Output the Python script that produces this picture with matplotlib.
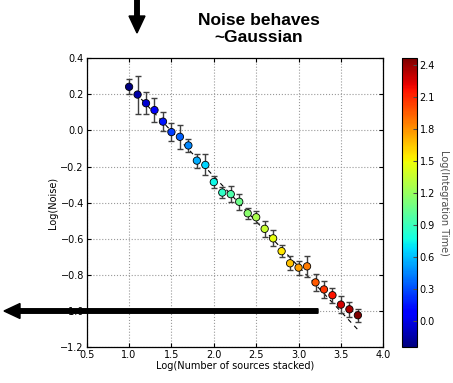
import matplotlib
matplotlib.use("Agg")
import matplotlib.pyplot as plt
import numpy as np
from matplotlib.patches import FancyArrow
from matplotlib.transforms import IdentityTransform

# ---- data ----
log_n = [1.0, 1.1, 1.2, 1.3, 1.4, 1.5, 1.6, 1.7, 1.8, 1.9,
         2.0, 2.1, 2.2, 2.3, 2.4, 2.5, 2.6, 2.7, 2.8, 2.9,
         3.0, 3.1, 3.2, 3.3, 3.4, 3.5, 3.6, 3.7]
log_noise = [0.242, 0.199, 0.151, 0.113, 0.049, -0.009, -0.035, -0.083, -0.167, -0.191,
             -0.286, -0.344, -0.353, -0.395, -0.459, -0.481, -0.545, -0.598, -0.669, -0.736,
             -0.760, -0.753, -0.842, -0.881, -0.913, -0.965, -0.991, -1.024]
noise_err = [0.042, 0.105, 0.060, 0.068, 0.054, 0.050, 0.066, 0.037, 0.039, 0.058,
             0.033, 0.028, 0.045, 0.044, 0.031, 0.033, 0.045, 0.044, 0.033, 0.039,
             0.039, 0.060, 0.045, 0.048, 0.042, 0.046, 0.040, 0.037]
log_time = [-0.24, -0.14, -0.04, 0.06, 0.16, 0.26, 0.36, 0.46, 0.56, 0.66,
            0.76, 0.86, 0.96, 1.06, 1.16, 1.26, 1.36, 1.46, 1.56, 1.66,
            1.76, 1.86, 1.96, 2.06, 2.16, 2.26, 2.36, 2.46]
fit_x = [1.0, 3.7]
fit_y = [0.246, -1.104]

xticks = [0.5, 1.0, 1.5, 2.0, 2.5, 3.0, 3.5, 4.0]
yticks = [-1.2, -1.0, -0.8, -0.6, -0.4, -0.2, 0.0, 0.2, 0.4]
cticks = [0.0, 0.3, 0.6, 0.9, 1.2, 1.5, 1.8, 2.1, 2.4]

W, H = 453, 383
fig = plt.figure(figsize=(W / 100, H / 100), dpi=100)
fs = 7

ax = fig.add_axes([86.7 / W, 1 - 347 / H, (383.3 - 86.7) / W, (347 - 58.3) / H])
cax = fig.add_axes([401.7 / W, 1 - 347 / H, 15 / W, (347 - 58.3) / H])

ax.plot(fit_x, fit_y, color='black', ls=(0, (4, 4)), lw=0.8, zorder=1)
eb = ax.errorbar(log_n, log_noise, yerr=noise_err, fmt='none', ecolor='0.25',
                 elinewidth=1.0, capsize=2.5, capthick=1.0, zorder=2)
for cap in eb[1]:
    cap.set_color('0.65')
sc = ax.scatter(log_n, log_noise, c=log_time, cmap='jet', s=28,
                edgecolors='black', linewidths=0.6, zorder=3,
                vmin=min(log_time), vmax=max(log_time))

ax.set_xlim(0.5, 4.0)
ax.set_ylim(-1.2, 0.4)
ax.set_xticks(xticks)
ax.set_yticks(yticks)
ax.set_xticklabels([f"{t:.1f}" for t in xticks])
ax.set_yticklabels([f"{t:.1f}".replace('-', '\u2212') for t in yticks])
ax.grid(True, ls=':', color='0.6', lw=0.8)
ax.tick_params(direction='in', top=True, right=True, labelsize=fs, length=3, pad=2)
ax.set_xlabel("Log(Number of sources stacked)", fontsize=fs, labelpad=1)
ax.set_ylabel("Log(Noise)", fontsize=fs, labelpad=2)
for s in ax.spines.values():
    s.set_linewidth(0.9)

cb = fig.colorbar(sc, cax=cax)
cb.set_ticks(cticks)
cb.set_ticklabels([f"{t:.1f}" for t in cticks])
cax.tick_params(labelsize=fs, direction='in', length=3, color='0.3', pad=2)
cb.set_label("Log(Integration Time)", rotation=270, fontsize=fs, labelpad=10, color='0.3')
cb.outline.set_linewidth(0.8)

fig.text(259 / W, 1 - 29 / H, "Noise behaves\n~Gaussian", ha='center', va='center',
         fontsize=12.5, fontweight='bold', family=['Liberation Sans', 'DejaVu Sans'],
         linespacing=1.2)

# annotation arrows (figure pixels)
fig.add_artist(FancyArrow(318, H - 311, -298, 0, width=4.5, head_width=15,
                          head_length=16, length_includes_head=False, color='black',
                          transform=IdentityTransform()))
fig.add_artist(FancyArrow(137, H, 0, -16, width=4.5, head_width=16,
                          head_length=17, color='black',
                          transform=IdentityTransform()))

fig.savefig("out.png", dpi=100)
